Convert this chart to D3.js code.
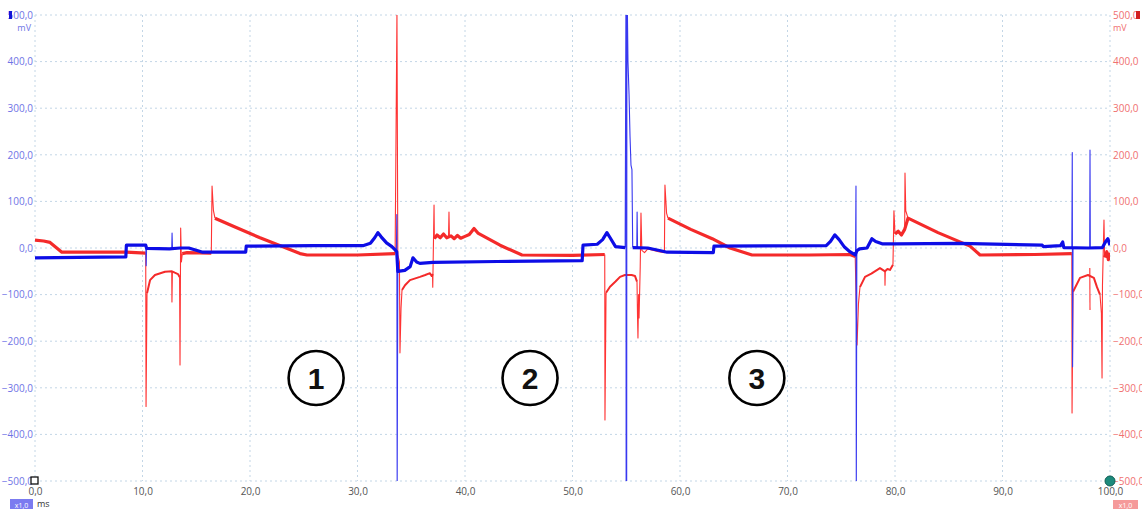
<!DOCTYPE html>
<html><head><meta charset="utf-8">
<script src="https://cdn.jsdelivr.net/npm/d3@7"></script>
<style>body{margin:0;background:#fff;overflow:hidden}svg{display:block}</style>
</head><body>
<svg id="c" width="1142" height="509"></svg>
<script>
// ---- data (time in ms, voltage in mV) ----
const timeTicks = [0,10,20,30,40,50,60,70,80,90,100];
const mvTicks = [-500,-400,-300,-200,-100,0,100,200,300,400,500];
const unitY = "mV";
const unitX = "ms";
const zoneLabels = ["1","2","3"];
const zoneTimes = [26.15, 46.05, 67.15];
const zoneValue = -279;

// Channel A (blue, left axis): slow trace
const blueTrace = [[0,-21],[4,-20],[8.45,-19],[8.5,6],[10.3,6],[10.38,-1],[12.5,-2],[13.5,0],[14.3,0],[15.0,-5],[15.6,-9],[19.6,-9],[19.65,4],[26,5],[30.5,5],[31.2,10],[31.6,22],[31.9,33],[32.2,24],[32.7,11],[33.2,3],[33.5,-4],[33.65,-8],[33.75,-50],[34.4,-48],[34.9,-40],[35.16,-21],[35.5,-30],[35.8,-33],[37,-31],[43,-29],[50.9,-27],[50.98,6],[52.3,8],[52.8,18],[53.2,33],[53.5,22],[54.0,3],[54.9,1]];
const blueTrace2 = [[55.6,1],[57,0],[58.2,-6],[58.8,-9],[63.1,-10],[63.16,4],[73.6,5],[74.0,14],[74.4,28],[74.8,18],[75.3,2],[75.8,-8],[76.3,-15],[76.45,-6],[76.7,-2],[77.4,0],[77.85,20],[78.2,14],[78.8,9],[80,9],[86,10],[93.7,6],[93.8,3],[95.4,5],[95.6,13],[95.7,1],[98,0],[99.3,1],[99.6,14],[99.8,20],[100,6]];
// Channel A fast spikes
const blueSpikes = [
  [[10.31,6],[10.34,-38],[10.38,-1]],
  [[12.72,-2],[12.75,32],[12.79,-2]],
  [[33.62,-6],[33.66,72],[33.69,-520],[33.75,-50]],
  [[54.9,1],[54.97,520],[54.99,-520],[55.04,-520],[55.06,520],[55.1,520],[55.16,400],[55.26,330],[55.35,240],[55.44,178],[55.53,168],[55.6,1]],
  [[55.98,0],[56.01,77],[56.05,0]],
  [[76.33,-15],[76.37,133],[76.4,-520],[76.45,-6]],
  [[96.45,2],[96.49,205],[96.52,-255],[96.56,2]],
  [[98.11,0],[98.14,210],[98.17,0]]
];

// Channel B (red, right axis): slow trace segments
const redTrace = [
  [[0,17],[0.8,15],[1.4,12],[2.5,-9],[8.5,-9],[10.3,-11]],
  [[13.7,-12],[14.14,-10],[16.4,-11]],
  [[16.74,64],[18.5,46],[20.93,22],[23,3],[24.65,-12],[25.3,-15],[30,-15],[33.5,-12]],
  [[37.15,20],[37.4,28],[37.7,22],[38.0,30],[38.3,22],[38.7,26],[39.0,20],[39.3,27],[39.6,21],[40.0,25],[40.4,29],[40.84,42],[41.2,32],[43.26,6],[45.3,-15],[50,-16],[53.0,-14]],
  [[58.88,64],[61,40],[63,20],[64.65,0],[66.7,-15],[72,-15],[75.8,-14],[76.3,-18]],
  [[80.0,30],[80.3,36],[80.6,28],[80.9,40],[81.21,64],[84,33],[86.98,4],[87.91,-15],[93,-14],[96.45,-12]],
  [[99.5,-20],[99.7,-8],[99.85,-25],[100,-10]]
];
// Channel B recovery arcs after ignition events
const redArcs = [
  [[10.42,-97],[10.7,-69],[11.16,-58],[12.09,-51],[12.74,-50],[13.0,-53],[13.3,-56],[13.45,-62]],
  [[34.14,-90],[34.42,-80],[34.88,-69],[35.81,-62],[36.3,-58],[36.74,-54],[36.9,-60],[37.02,-56]],
  [[53.12,-96],[53.49,-83],[54.0,-72],[54.42,-62],[54.88,-58],[55.5,-58],[55.81,-60],[56.0,-72]],
  [[76.74,-84],[77.21,-62],[77.8,-55],[78.6,-43],[79.07,-50],[79.3,-45],[79.53,-47],[79.81,-36]],
  [[96.56,-94],[97.21,-64],[97.95,-58],[98.5,-64],[98.79,-84],[99.07,-100]]
];
// Channel B fast spikes
const redSpikes = [
  [[10.3,-11],[10.33,-340],[10.42,-97]],
  [[12.72,-50],[12.74,-116],[12.78,-51]],
  [[13.45,-62],[13.49,-251],[13.55,43],[13.62,-30],[13.7,-12]],
  [[16.4,-11],[16.47,133],[16.6,80],[16.74,64]],
  [[33.5,-12],[33.67,505],[33.75,-15],[33.9,-30],[33.95,-225],[34.05,-129],[34.14,-90]],
  [[36.98,-56],[37.0,-84],[37.02,-56],[37.12,92],[37.15,20]],
  [[38.47,26],[38.51,77],[38.55,26]],
  [[53.0,-14],[53.02,-369],[53.12,-96]],
  [[56.0,-72],[56.05,-148],[56.09,-193],[56.15,-100],[56.19,-150],[56.3,-40],[56.37,75],[56.45,-5],[56.7,-10],[57.0,-2],[58.0,-8],[58.55,-10],[58.6,135],[58.75,75],[58.88,64]],
  [[76.3,-18],[76.47,-208],[76.6,-120],[76.74,-84]],
  [[79.05,-47],[79.07,-80],[79.1,-50]],
  [[79.81,-36],[79.9,80],[80.0,30]],
  [[80.9,40],[80.93,161],[81.0,80],[81.21,64]],
  [[96.45,-12],[96.47,-354],[96.56,-94]],
  [[98.12,-43],[98.14,-133]],
  [[99.07,-100],[99.2,-140],[99.26,-279],[99.3,-80],[99.35,-30],[99.44,60],[99.5,-20]]
];

// ---- drawing ----
const svg = d3.select("#c");
const W = 1142, H = 509;
const m = {l:35, r:32, t:15, b:28};
const x = d3.scaleLinear().domain([0,100]).range([m.l, W-m.r]);
const yL = d3.scaleLinear().domain([-500,500]).range([H-m.b, m.t]);
const yR = d3.scaleLinear().domain([-500,500]).range([H-m.b, m.t]);
const fmt = d => d3.format(".1f")(d).replace(".", ",");
const FONT = "'Open Sans', 'Noto Sans', sans-serif";
const BLUE = "#0d0de6", RED = "#f42a2a";
const gridC = "#c3d6e6";

// grid
const grid = svg.append("g");
grid.selectAll("line.h").data(mvTicks).join("line")
  .attr("x1", x(0)).attr("x2", x(100)).attr("y1", d=>yL(d)).attr("y2", d=>yL(d))
  .attr("stroke", gridC).attr("stroke-width",1).attr("stroke-dasharray","2,3");
grid.selectAll("line.v").data(timeTicks).join("line")
  .attr("y1", yL(500)).attr("y2", yL(-500)).attr("x1", d=>x(d)).attr("x2", d=>x(d))
  .attr("stroke", gridC).attr("stroke-width",1).attr("stroke-dasharray","2,3");

// axes
const axL = svg.append("g").attr("transform",`translate(${x(0)},0)`)
  .call(d3.axisLeft(yL).tickValues(mvTicks).tickFormat(fmt).tickSize(0).tickPadding(2));
axL.select(".domain").remove();
axL.selectAll("text").attr("fill","#6f74e6").style("font-family",FONT).style("font-size","10px");
const axR = svg.append("g").attr("transform",`translate(${x(100)},0)`)
  .call(d3.axisRight(yR).tickValues(mvTicks).tickFormat(fmt).tickSize(0).tickPadding(3));
axR.select(".domain").remove();
axR.selectAll("text").attr("fill","#f07070").style("font-family",FONT).style("font-size","10px");
const axB = svg.append("g").attr("transform",`translate(0,${yL(-500)})`)
  .call(d3.axisBottom(x).tickValues(timeTicks).tickFormat(fmt).tickSize(0).tickPadding(7));
axB.select(".domain").remove();
axB.selectAll("text").attr("fill","#555").style("font-family",FONT).style("font-size","10px");

// unit labels
svg.append("text").attr("x", x(0)-4).attr("y", yL(500)+16).attr("text-anchor","end")
  .attr("fill","#6f74e6").style("font-family",FONT).style("font-size","9px").text(unitY);
svg.append("text").attr("x", x(100)+3).attr("y", yR(500)+16)
  .attr("fill","#f07070").style("font-family",FONT).style("font-size","9px").text(unitY);
// channel markers
svg.append("rect").attr("x",9).attr("y",yL(500)-4).attr("width",3).attr("height",8).attr("fill","#1414d8");
svg.append("rect").attr("x",1136).attr("y",yR(500)-4).attr("width",4).attr("height",8).attr("fill","#d21e1e");
// bottom-left badge
svg.append("rect").attr("x",10).attr("y",499).attr("width",23).attr("height",12).attr("fill","#7b7bf0");
svg.append("text").attr("x",21.5).attr("y",507.5).attr("text-anchor","middle").attr("fill","#fff")
  .style("font-family",FONT).style("font-size","7px").text("x1,0");
svg.append("text").attr("x",37).attr("y",507).attr("fill","#333")
  .style("font-family",FONT).style("font-size","9px").text(unitX);
svg.append("rect").attr("x",1113).attr("y",500).attr("width",25).attr("height",12).attr("fill","#f59a9a");
svg.append("text").attr("x",1125.5).attr("y",508).attr("text-anchor","middle").attr("fill","#fff")
  .style("font-family",FONT).style("font-size","7px").text("x1,0");

// traces (clipped)
svg.append("clipPath").attr("id","clip").append("rect")
  .attr("x", x(0)).attr("y", yL(500)).attr("width", x(100)-x(0)).attr("height", yL(-500)-yL(500));
const plot = svg.append("g").attr("clip-path","url(#clip)");
const lineL = d3.line().x(d=>x(d[0])).y(d=>yL(d[1]));
const lineR = d3.line().x(d=>x(d[0])).y(d=>yR(d[1]));

// red
plot.selectAll("path.rs").data(redSpikes).join("path").attr("d", lineR)
  .attr("fill","none").attr("stroke","#f33").attr("stroke-width",1.1).attr("stroke-linejoin","round");
plot.selectAll("path.ra").data(redArcs).join("path").attr("d", lineR)
  .attr("fill","none").attr("stroke",RED).attr("stroke-width",2).attr("stroke-linejoin","round");
plot.selectAll("path.rt").data(redTrace).join("path").attr("d", lineR)
  .attr("fill","none").attr("stroke",RED).attr("stroke-width",3.2).attr("stroke-linejoin","round");
// blue
plot.selectAll("path.bs").data(blueSpikes).join("path").attr("d", lineL)
  .attr("fill","none").attr("stroke","#3838f0").attr("stroke-width",1.1).attr("stroke-linejoin","round");
plot.selectAll("path.bt").data([blueTrace, blueTrace2]).join("path").attr("d", lineL)
  .attr("fill","none").attr("stroke",BLUE).attr("stroke-width",3.2).attr("stroke-linejoin","round");

// corner markers
svg.append("rect").attr("x", x(0)-4).attr("y", yL(-500)-4).attr("width",7).attr("height",7)
  .attr("fill","#fff").attr("stroke","#111").attr("stroke-width",1.3);
svg.append("circle").attr("cx", x(100)).attr("cy", yR(-500)).attr("r",5)
  .attr("fill","#1c8a7c").attr("stroke","#0f5f55").attr("stroke-width",1);

// zone annotations
const z = svg.append("g").selectAll("g").data(zoneLabels).join("g")
  .attr("transform",(d,i)=>`translate(${x(zoneTimes[i])},${yL(zoneValue)})`);
z.append("ellipse").attr("rx",27.5).attr("ry",27).attr("fill","#fff").attr("stroke","#000").attr("stroke-width",2.6);
z.append("text").attr("text-anchor","middle").attr("dy","0.36em")
  .style("font-family","'Liberation Sans', Arial, sans-serif").style("font-weight","bold").style("font-size","30px")
  .attr("fill","#111").text(d=>d);
</script>
</body></html>
